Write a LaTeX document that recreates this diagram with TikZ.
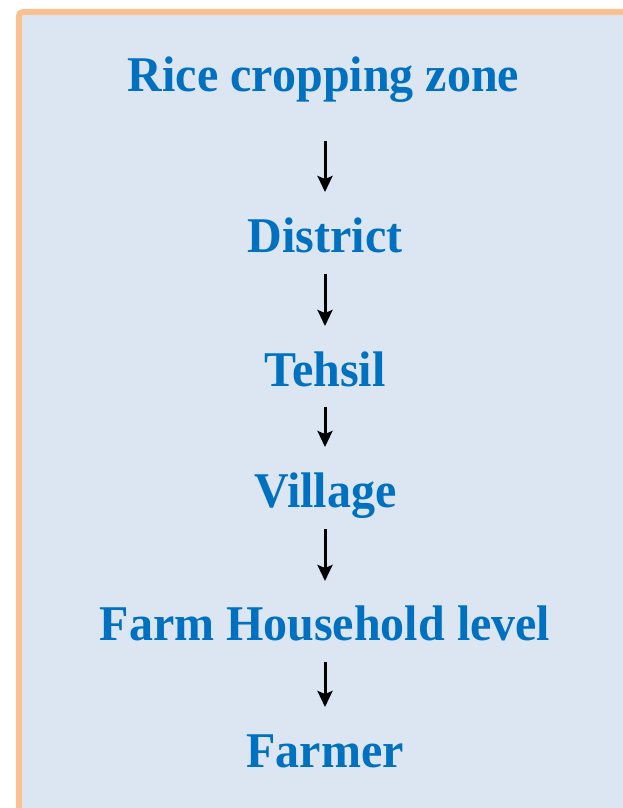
\documentclass[tikz,border=0pt]{standalone}
\usepackage{fontspec}
\setmainfont{Liberation Serif}[FakeStretch=0.96]
\usetikzlibrary{arrows.meta}
\definecolor{txtblue}{HTML}{0070C0}
\definecolor{boxfill}{HTML}{DCE6F2}
\definecolor{boxedge}{HTML}{FAC090}
\tikzset{
  lvl/.style={anchor=base, inner sep=0pt, text=txtblue, font=\fontsize{50}{56}\selectfont\bfseries},
  flow/.style={line width=3pt, -{Stealth[length=16pt,width=15pt,inset=3pt]}}
}
\begin{document}
\begin{tikzpicture}[x=1pt,y=-1pt]
\useasboundingbox (0,0) rectangle (623,808);
\fill[white] (0,0) rectangle (623,808);
\draw[boxedge, fill=boxfill, line width=6pt, rounded corners=4pt] (19,12) -- (640,12) -- (640,830) -- (19,830) -- cycle;
\node[lvl] (n1) at (323.5,92) {Rice cropping zone};
\node[lvl] (n2) at (325,252) {District};
\node[lvl] (n3) at (325,386) {Tehsil};
\node[lvl] (n4) at (325.5,507) {Village};
\node[lvl] (n5) at (325,640) {Farm Household level};
\node[lvl] (n6) at (325,767) {Farmer};
\coordinate (a1s) at (325,141); \coordinate (a1e) at (325,192);
\coordinate (a2s) at (325,274); \coordinate (a2e) at (325,326);
\coordinate (a3s) at (325,407); \coordinate (a3e) at (325,447);
\coordinate (a4s) at (325,529); \coordinate (a4e) at (325,581);
\coordinate (a5s) at (325,662); \coordinate (a5e) at (325,707);
\draw[flow] (a1s) -- (a1e);
\draw[flow] (a2s) -- (a2e);
\draw[flow] (a3s) -- (a3e);
\draw[flow] (a4s) -- (a4e);
\draw[flow] (a5s) -- (a5e);
\end{tikzpicture}
\end{document}
